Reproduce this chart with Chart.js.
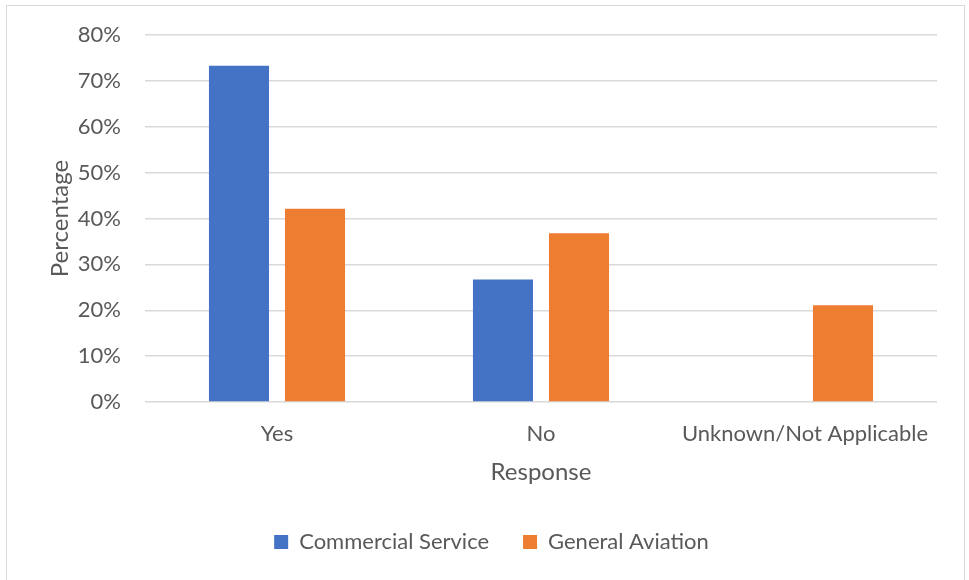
<!DOCTYPE html>
<html>
<head>
<meta charset="utf-8">
<script src="https://cdn.jsdelivr.net/npm/chart.js@4/dist/chart.umd.min.js"></script>
<style>
  html, body { margin: 0; padding: 0; background: #fff; overflow: hidden; }
  #wrap { position: relative; width: 969px; height: 580px; }
  #frame { position: absolute; left: 6px; top: 5px; width: 959px; height: 600px; border: 1px solid #D9D9D9; box-sizing: border-box; }
  canvas { position: absolute; left: 0; top: 0; }
</style>
</head>
<body>
<div id="wrap">
  <div id="frame"></div>
  <canvas id="chart" width="969" height="580"></canvas>
</div>
<script>
// Survey responses by airport type (percent of respondents)
const categories = ['Yes', 'No', 'Unknown/Not Applicable'];
const commercialService = [73.3, 26.7, 0];
const generalAviation = [42.1, 36.8, 21.1];
const yTicks = [0, 10, 20, 30, 40, 50, 60, 70, 80];

const FONT = 'Lato, "Open Sans", sans-serif';
const TEXT = '#595959';
const GRID = '#D9D9D9';

new Chart(document.getElementById('chart'), {
  type: 'bar',
  data: {
    labels: categories,
    datasets: [
      { label: 'Commercial Service', data: commercialService, backgroundColor: '#4472C4',
        categoryPercentage: 0.576, barPercentage: 0.79 },
      { label: 'General Aviation', data: generalAviation, backgroundColor: '#ED7D31',
        categoryPercentage: 0.576, barPercentage: 0.79 }
    ]
  },
  options: {
    responsive: false,
    animation: false,
    layout: { padding: { left: 46, right: 32, top: 35, bottom: 17 } },
    plugins: {
      tooltip: { enabled: false },
      legend: {
        position: 'bottom',
        labels: {
          boxWidth: 14, boxHeight: 14, padding: 34,
          color: TEXT, font: { family: FONT, size: 22 }
        }
      }
    },
    scales: {
      x: {
        grid: { display: false, drawTicks: false },
        border: { display: false },
        ticks: { color: TEXT, font: { family: FONT, size: 22 }, padding: 19, maxRotation: 0 },
        title: { display: true, text: 'Response', color: TEXT,
                 font: { family: FONT, size: 24 }, padding: { top: 0, bottom: 10 } },
        afterFit: s => { s.height = 95; }
      },
      y: {
        min: 0, max: 80,
        afterBuildTicks: s => { s.ticks = yTicks.map(v => ({ value: v })); },
        grid: { color: GRID, lineWidth: 1.5, drawTicks: false },
        border: { display: false },
        ticks: { color: TEXT, font: { family: FONT, size: 22 }, padding: 24,
                 callback: v => v + '%' },
        title: { display: true, text: 'Percentage', color: TEXT,
                 font: { family: FONT, size: 24 }, padding: { top: 0, bottom: 0 } },
        afterFit: s => { s.width = 99; s.paddingTop = 0; s.paddingBottom = 0; }
      }
    }
  }
});
</script>
</body>
</html>
